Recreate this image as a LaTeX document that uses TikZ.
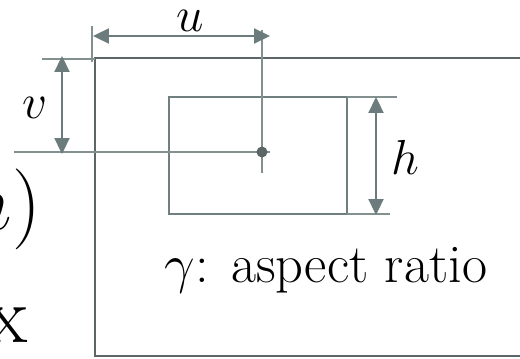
\RequirePackage{fix-cm}
\documentclass[tikz,border=0pt]{standalone}
\usepackage{xcolor}
\usepackage{tikz}
\usetikzlibrary{arrows.meta}
\usepackage{amsmath, amssymb}

\definecolor{colmarco}{RGB}{92,102,102}
\definecolor{colcaja}{RGB}{112,128,128}
\definecolor{colguia}{RGB}{130,144,144}
\definecolor{colcota}{RGB}{108,124,124}

\begin{document}
\begin{tikzpicture}[x=0.02cm, y=-0.02cm,
  guia/.style={draw=colguia, line width=0.8pt},
  cota/.style={draw=colcota, line width=1.3pt,
    {Triangle[length=0.32cm,width=0.3cm]}-{Triangle[length=0.32cm,width=0.3cm]}},
  etiqueta/.style={font=\fontsize{28}{34}\selectfont, inner sep=0pt}]

% Recorte de la imagen
\useasboundingbox (0,0) rectangle (520,358);
\clip (0,0) rectangle (520,358);

% Puntos de referencia
\coordinate (centro) at (262,152);
\coordinate (uizq) at (93,36);
\coordinate (uder) at (270,36);
\coordinate (varr) at (62,56);
\coordinate (vaba) at (62,154);
\coordinate (harr) at (376,97);
\coordinate (haba) at (376,215);

% Marco de la imagen
\draw[colmarco, line width=1.4pt] (600,58) -- (95,58) -- (95,356) -- (600,356);

% Caja
\draw[colcaja, line width=1.2pt] (169,97) rectangle (347,214);

% Lineas guia
\draw[guia] (14,152) -- (270,152);
\draw[guia] (262,30) -- (262,173);
\draw[guia] (92,26) -- (92,62);
\draw[guia] (42,59) -- (95,59);
\draw[guia] (347,97) -- (397,97);
\draw[guia] (347,214) -- (390,214);

% Centro
\fill[colmarco] (centro) circle (5.5);

% Cotas
\draw[cota] (uizq) -- (uder);
\draw[cota] (varr) -- (vaba);
\draw[cota] (harr) -- (haba);

% Etiquetas
\node[etiqueta] (u) at (190,21) {$u$};
\node[etiqueta] (v) at (35,108) {$v$};
\node[etiqueta] (h) at (405,157) {$h$};
\node[etiqueta, font=\fontsize{31}{36}\selectfont] (ratio) at (326,270) {$\gamma$: aspect ratio};

% Texto cortado a la izquierda
\node[anchor=base east, inner sep=0pt, font=\fontsize{46}{52}\selectfont] (tupla) at (41,229) {$h)$};
\node[anchor=base east, inner sep=0pt, font=\fontsize{46}{52}\selectfont] (resto) at (28,342) {x};

\end{tikzpicture}
\end{document}
